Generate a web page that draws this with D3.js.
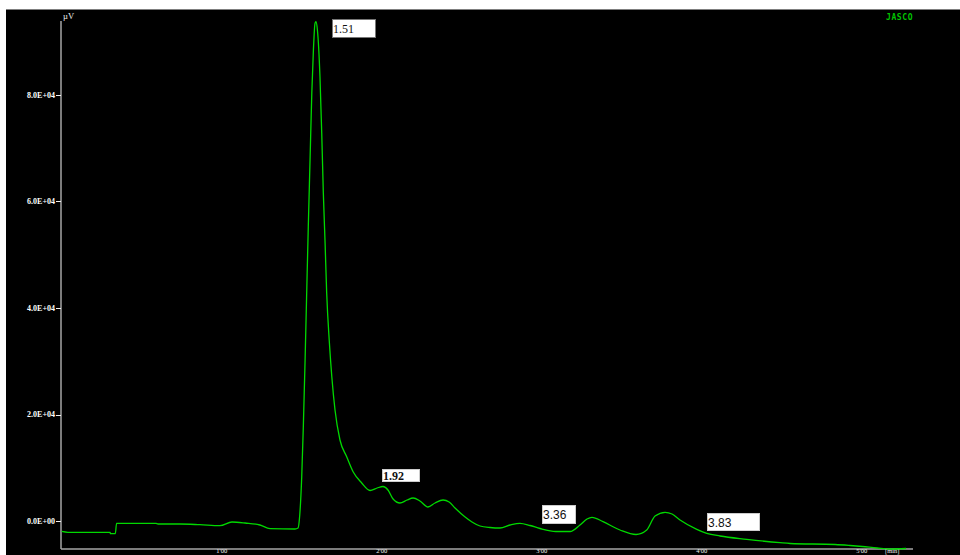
<!DOCTYPE html>
<html>
<head>
<meta charset="utf-8">
<script src="https://cdn.jsdelivr.net/npm/d3@7"></script>
<style>
  body { margin: 0; background: #fff; }
  svg { display: block; }
</style>
</head>
<body>
<div id="chart"></div>
<script>
// chromatogram trace, time in minutes, signal in µV
var times = [0.00, 0.039, 0.302, 0.305, 0.335, 0.343, 0.589, 0.602, 0.739, 0.864, 0.989, 1.064, 1.146, 1.239, 1.302, 1.458, 1.477,
  1.485, 1.500, 1.510, 1.521, 1.531, 1.541, 1.552, 1.563, 1.573, 1.583, 1.589, 1.598, 1.614, 1.625, 1.635, 1.646, 1.656,
  1.673, 1.688, 1.708, 1.739, 1.781, 1.821, 1.875, 1.927, 1.971, 2.008, 2.039, 2.071, 2.114, 2.158, 2.196, 2.239, 2.289,
  2.333, 2.383, 2.421, 2.458, 2.521, 2.564, 2.614, 2.677, 2.739, 2.802, 2.864, 2.927, 2.989, 3.089, 3.177, 3.239, 3.283,
  3.314, 3.383, 3.489, 3.589, 3.656, 3.708, 3.771, 3.814, 3.864, 3.969, 4.031, 4.114, 4.281, 4.489, 4.552, 4.833, 4.927,
  5.002, 5.096, 5.177, 5.277];
var signal = [-1910, -2064, -2064, -2326, -2326, -375, -375, -507, -507, -638, -825, -131, -319, -694, -1388, -1445, -1257,
  244, 8367, 17747, 30260, 42829, 55267, 67780, 80349, 88416, 93425, 93725, 92168, 83407, 72845, 61589, 52209, 42829,
  33449, 27127, 20880, 15252, 12119, 9305, 7185, 5778, 6247, 6528, 5872, 4183, 3433, 3996, 4371, 3808, 2683,
  3433, 3996, 3621, 2495, 807, -131, -882, -1163, -1257, -694, -375, -788, -1351, -1914, -1914, -694, 431,
  750, -75, -1632, -2476, -1632, 994, 1688, 1369, 244, -1501, -2251, -2758, -3377, -4015, -4165, -4352, -4540,
  -4728, -5009, -5197, -5103];

// peak labels, anchored (top-left of the box) in data units
var peakNames = ["1.51", "1.92", "3.36", "3.83"];
var peakTimes = [1.691, 2.002, 3.004, 4.035];
var peakValues = [94178, 9811, 3058, 1501];

var yTicks = [0, 20000, 40000, 60000, 80000];
var yTickLabels = ["0.0E+00", "2.0E+04", "4.0E+04", "6.0E+04", "8.0E+04"];
var xTicks = [1, 2, 3, 4, 5];
var xTickLabels = ["1'00", "2'00", "3'00", "4'00", "5'00"];

var w = 960, h = 555;

// box sizes per label (px)
var boxW = [43, 37, 33, 52];
var boxH = [18, 12, 18, 17];
var boxFont = ["Liberation Serif", "Liberation Serif", "Liberation Sans", "Liberation Sans"];
var boxBold = [false, true, false, false];

var svg = d3.select("#chart")
  .append("svg")
  .attr("width", w)
  .attr("height", h);

svg.append("rect")
  .attr("x", 6).attr("y", 9.5)
  .attr("width", w - 6).attr("height", h - 9.5)
  .attr("fill", "#000");

var xScale = d3.scaleLinear()
  .domain([0, 5.32])
  .range([61.7, 913]);

var yScale = d3.scaleLinear()
  .domain([-5197, 93860])
  .range([549, 21]);

// axes lines
svg.append("line")
  .attr("x1", 61).attr("x2", 61)
  .attr("y1", yScale.range()[1]).attr("y2", yScale.range()[0])
  .attr("stroke", "#a6a6a6").attr("stroke-width", 1.5);

svg.append("line")
  .attr("x1", 61).attr("x2", xScale.range()[1])
  .attr("y1", 549).attr("y2", 549)
  .attr("stroke", "#a6a6a6").attr("stroke-width", 1.5);

// y ticks
var yg = svg.append("g");
yg.selectAll("line")
  .data(yTicks)
  .enter().append("line")
  .attr("x1", 56).attr("x2", 61)
  .attr("y1", function(d) { return Math.round(yScale(d)) + 0.5; })
  .attr("y2", function(d) { return Math.round(yScale(d)) + 0.5; })
  .attr("stroke", "#f0f0f0").attr("stroke-width", 1);

yg.selectAll("text")
  .data(yTicks)
  .enter().append("text")
  .attr("x", 55)
  .attr("y", function(d) { return yScale(d); })
  .attr("dy", "0.33em")
  .attr("text-anchor", "end")
  .attr("fill", "#ffffff")
  .style("font-family", "Liberation Serif")
  .style("font-weight", "bold")
  .style("font-size", "8px")
  .text(function(d, i) { return yTickLabels[i]; });

// x tick labels, squeezed under the axis at the window's bottom edge
svg.append("g").selectAll("text")
  .data(xTicks)
  .enter().append("text")
  .attr("x", function(d) { return xScale(d); })
  .attr("y", 553.4)
  .attr("text-anchor", "middle")
  .attr("fill", "#f0f0f0")
  .style("font-family", "Liberation Serif")
  .style("font-size", "6.5px")
  .text(function(d, i) { return xTickLabels[i]; });

svg.append("text")
  .attr("x", 885).attr("y", 553.4)
  .attr("fill", "#f0f0f0")
  .style("font-family", "Liberation Serif")
  .style("font-size", "6.5px")
  .text("[min]");

svg.append("text")
  .attr("x", 63).attr("y", 19)
  .attr("fill", "#f0f0f0")
  .style("font-family", "Liberation Serif")
  .style("font-size", "8.5px")
  .text("µV");

svg.append("text")
  .attr("x", 886).attr("y", 19.5)
  .attr("fill", "#00c400")
  .style("font-family", "DejaVu Sans Mono")
  .style("font-size", "8px")
  .style("font-weight", "bold")
  .style("letter-spacing", "0.6px")
  .text("JASCO");

// trace
var pts = times.map(function(t, i) { return [t, signal[i]]; });
svg.append("path")
  .datum(pts)
  .attr("fill", "none")
  .attr("stroke", "#00d800")
  .attr("stroke-width", 1.3)
  .attr("d", d3.line()
    .curve(d3.curveMonotoneX)
    .x(function(d) { return xScale(d[0]); })
    .y(function(d) { return yScale(d[1]); })
  );

// peak label boxes
var lab = svg.append("g").selectAll("g")
  .data(peakNames)
  .enter().append("g")
  .attr("transform", function(d, i) {
    return "translate(" + Math.round(xScale(peakTimes[i])) + "," + Math.round(yScale(peakValues[i])) + ")";
  });

lab.append("rect")
  .attr("x", 0.5).attr("y", 0.5)
  .attr("width", function(d, i) { return boxW[i]; })
  .attr("height", function(d, i) { return boxH[i]; })
  .attr("fill", "#fff")
  .attr("stroke", function(d, i) { return i == 0 ? "#777" : "#ccc"; })
  .attr("stroke-width", 1);

lab.append("text")
  .attr("x", 1)
  .attr("y", function(d, i) { return boxH[i] / 2 + 1; })
  .attr("dy", "0.35em")
  .attr("fill", "#111")
  .style("font-family", function(d, i) { return boxFont[i]; })
  .style("font-weight", function(d, i) { return boxBold[i] ? "bold" : "normal"; })
  .style("font-size", "12px")
  .text(function(d) { return d; });
</script>
</body>
</html>
